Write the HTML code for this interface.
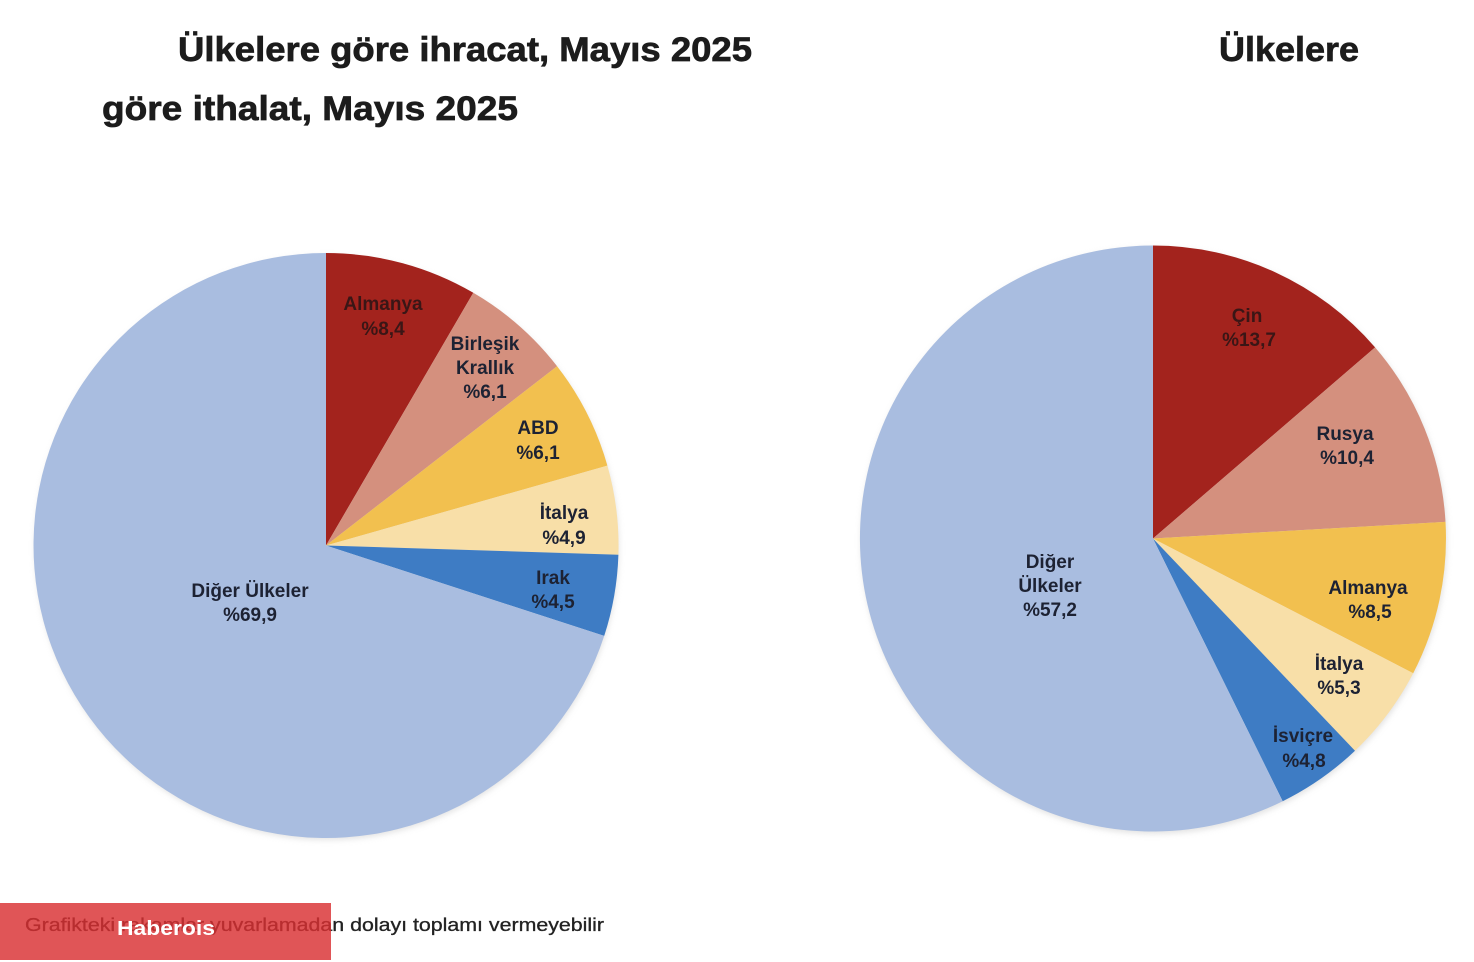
<!DOCTYPE html>
<html>
<head>
<meta charset="utf-8">
<style>
  html, body { margin:0; padding:0; background:#ffffff; }
  body { width:1474px; height:962px; overflow:hidden; }
  svg { display:block; }
</style>
</head>
<body>
<svg width="1474" height="962" viewBox="0 0 1474 962" xmlns="http://www.w3.org/2000/svg">
  <defs>
    <filter id="sh" x="-10%" y="-10%" width="120%" height="120%">
      <feGaussianBlur stdDeviation="3"/>
    </filter>
  </defs>
  <rect width="1474" height="962" fill="#ffffff"/>

  <!-- Titles -->
  <g font-family="'Liberation Sans', Arial, sans-serif" font-weight="bold" font-size="34" fill="#1c1c1c" stroke="#1c1c1c" stroke-width="0.7">
    <text x="178" y="61" textLength="574" lengthAdjust="spacingAndGlyphs">Ülkelere göre ihracat, Mayıs 2025</text>
    <text x="1219" y="61" textLength="140" lengthAdjust="spacingAndGlyphs">Ülkelere</text>
    <text x="102" y="120" textLength="416" lengthAdjust="spacingAndGlyphs">göre ithalat, Mayıs 2025</text>
  </g>

  <!-- soft shadows -->
  <circle cx="327" cy="548" r="292" fill="#c8c8c8" opacity="0.5" filter="url(#sh)"/>
  <circle cx="1154" cy="541" r="293" fill="#c8c8c8" opacity="0.5" filter="url(#sh)"/>

  <!-- Left pie: center (326,545.5) r 292.5 -->
  <g>
    <path d="M326,545.5 L326,253 A292.5,292.5 0 0 1 473.3,292.8 Z" fill="#a3231d"/>
    <path d="M326,545.5 L473.3,292.8 A292.5,292.5 0 0 1 557.1,366.2 Z" fill="#d4907e"/>
    <path d="M326,545.5 L557.1,366.2 A292.5,292.5 0 0 1 607.4,465.6 Z" fill="#f2c04f"/>
    <path d="M326,545.5 L607.4,465.6 A292.5,292.5 0 0 1 618.4,554.7 Z" fill="#f8dfa8"/>
    <path d="M326,545.5 L618.4,554.7 A292.5,292.5 0 0 1 604.2,635.9 Z" fill="#3e7cc4"/>
    <path d="M326,545.5 L604.2,635.9 A292.5,292.5 0 1 1 326,253 Z" fill="#a9bde0"/>
  </g>

  <!-- Right pie: center (1153,538.5) r 293 -->
  <g>
    <path d="M1153,538.5 L1153,245.5 A293,293 0 0 1 1375.1,347.4 Z" fill="#a3231d"/>
    <path d="M1153,538.5 L1375.1,347.4 A293,293 0 0 1 1445.5,521.9 Z" fill="#d4907e"/>
    <path d="M1153,538.5 L1445.5,521.9 A293,293 0 0 1 1413.2,673.2 Z" fill="#f2c04f"/>
    <path d="M1153,538.5 L1413.2,673.2 A293,293 0 0 1 1355.0,750.7 Z" fill="#f8dfa8"/>
    <path d="M1153,538.5 L1355.0,750.7 A293,293 0 0 1 1282.7,801.2 Z" fill="#3e7cc4"/>
    <path d="M1153,538.5 L1282.7,801.2 A293,293 0 1 1 1153,245.5 Z" fill="#a9bde0"/>
  </g>

  <!-- Labels -->
  <g font-family="'Liberation Sans', Arial, sans-serif" font-weight="bold" font-size="19" fill="#1d2233" text-anchor="middle">
    <!-- left -->
    <text x="383" y="310" fill="#3a1616">Almanya</text>
    <text x="383" y="335" fill="#3a1616">%8,4</text>
    <text x="485" y="350">Birleşik</text>
    <text x="485" y="374">Krallık</text>
    <text x="485" y="398">%6,1</text>
    <text x="538" y="434">ABD</text>
    <text x="538" y="459">%6,1</text>
    <text x="564" y="519">İtalya</text>
    <text x="564" y="544">%4,9</text>
    <text x="553" y="584">Irak</text>
    <text x="553" y="608">%4,5</text>
    <text x="250" y="597">Diğer Ülkeler</text>
    <text x="250" y="621">%69,9</text>
    <!-- right -->
    <text x="1247" y="322" fill="#3a1616">Çin</text>
    <text x="1249" y="346" fill="#3a1616">%13,7</text>
    <text x="1345" y="440">Rusya</text>
    <text x="1347" y="464">%10,4</text>
    <text x="1368" y="594">Almanya</text>
    <text x="1370" y="618">%8,5</text>
    <text x="1339" y="670">İtalya</text>
    <text x="1339" y="694">%5,3</text>
    <text x="1303" y="742">İsviçre</text>
    <text x="1304" y="767">%4,8</text>
    <text x="1050" y="568">Diğer</text>
    <text x="1050" y="592">Ülkeler</text>
    <text x="1050" y="616">%57,2</text>
  </g>

  <!-- Footer note -->
  <text x="25" y="931" font-family="'Liberation Sans', Arial, sans-serif" font-size="18" fill="#222222" stroke="#222222" stroke-width="0.3" textLength="579" lengthAdjust="spacingAndGlyphs">Grafikteki rakamlar yuvarlamadan dolayı toplamı vermeyebilir</text>
  <rect x="0" y="903" width="331" height="57" fill="#d93032" opacity="0.82"/>
  <text x="117" y="935" font-family="'Liberation Sans', Arial, sans-serif" font-weight="bold" font-size="20" fill="#ffffff" textLength="98" lengthAdjust="spacingAndGlyphs">Haberois</text>
</svg>
</body>
</html>
